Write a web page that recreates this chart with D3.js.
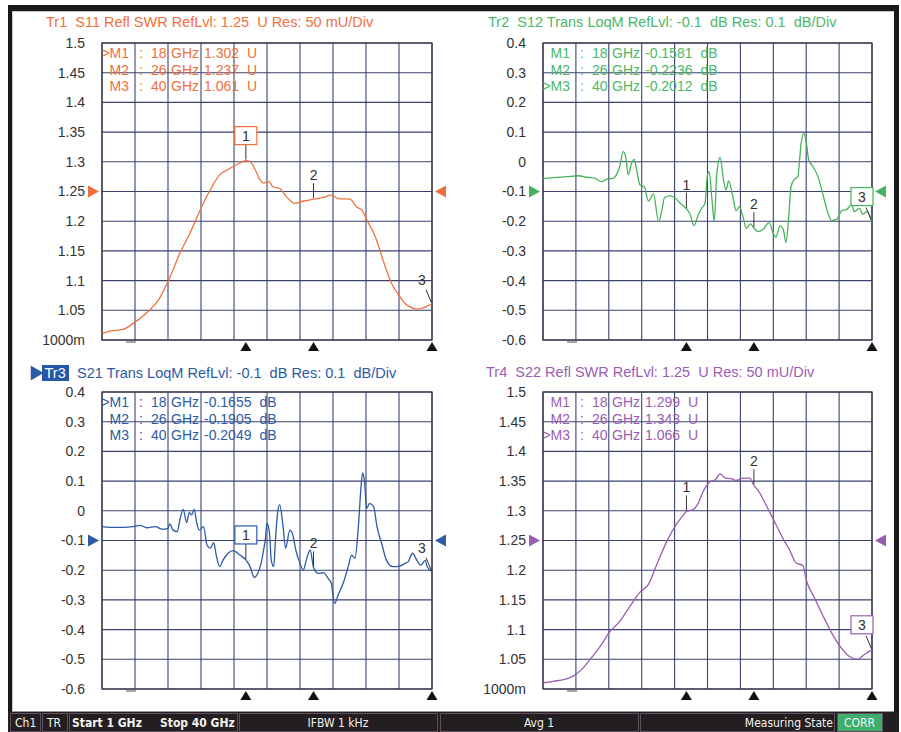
<!DOCTYPE html>
<html>
<head>
<meta charset="utf-8">
<script src="https://cdn.jsdelivr.net/npm/d3@7"></script>
<style>
  body { margin: 0; background: #ffffff; }
  svg { display: block; font-family: "Liberation Sans", Arial, sans-serif; }
  text { white-space: pre; }
</style>
</head>
<body>
<svg id="vna" width="901" height="732"></svg>
<script>
// ---- sweep & markers -------------------------------------------------------
const startGHz = 1, stopGHz = 40;
const markerGHz = [18, 26, 40];

// ---- axis tick labels ------------------------------------------------------
const swrTickValues = [1.5, 1.45, 1.4, 1.35, 1.3, 1.25, 1.2, 1.15, 1.1, 1.05, 1.0];
const swrTickLabels = ["1.5", "1.45", "1.4", "1.35", "1.3", "1.25", "1.2", "1.15", "1.1", "1.05", "1000m"];
const dbTickValues = [0.4, 0.3, 0.2, 0.1, 0, -0.1, -0.2, -0.3, -0.4, -0.5, -0.6];
const dbTickLabels = ["0.4", "0.3", "0.2", "0.1", "0", "-0.1", "-0.2", "-0.3", "-0.4", "-0.5", "-0.6"];

// ---- Tr1: S11 reflection, SWR ---------------------------------------------
const s11Freq = [1, 1.95, 3.52, 4.7, 6.28, 7.66, 9.04, 10.2, 11.4, 12.6, 13.8, 14.9, 15.9, 16.9, 18, 18.5, 19.1, 19.7, 20.1, 20.7,
  21.2, 22.0, 22.8, 23.8, 24.8, 26, 27.2, 28.1, 28.9, 30.3, 31.1, 31.7, 32.3, 33.3, 34.2, 35.2, 36.2, 37.2, 38.4, 39.4, 40];
const s11Swr = [1.011, 1.015, 1.018, 1.028, 1.046, 1.067, 1.106, 1.146, 1.18, 1.219, 1.253, 1.278, 1.287, 1.295, 1.302, 1.30, 1.287, 1.269, 1.264, 1.267,
  1.258, 1.255, 1.241, 1.23, 1.234, 1.237, 1.24, 1.244, 1.238, 1.237, 1.224, 1.219, 1.202, 1.174, 1.135, 1.096, 1.073, 1.057, 1.052, 1.057, 1.061];
const s11Markers = [1.302, 1.237, 1.061];

// ---- Tr2: S12 transmission, log magnitude ---------------------------------
const s12Freq = [1, 2.2, 3.8, 5.2, 6.2, 7.2, 7.9, 8.7, 9.3, 9.7, 10.1, 10.5, 10.8, 11.1, 11.5, 11.8, 12.1, 12.5, 13.0, 13.5,
  14.1, 14.7, 15.1, 15.4, 16.0, 16.6, 17.2, 18, 18.4, 18.9, 19.4, 19.8, 20.2, 20.5, 20.7, 21.0, 21.3, 21.6, 22.0, 22.4,
  22.7, 23.0, 23.5, 23.9, 24.3, 24.7, 25.1, 25.6, 26, 26.5, 27.1, 27.8, 28.3, 28.6, 29.1, 29.5, 29.8, 30.1, 30.4, 30.8,
  31.2, 31.6, 31.9, 32.2, 32.5, 33.0, 33.6, 34.2, 34.8, 35.2, 35.8, 36.4, 37.0, 37.6, 37.9, 38.5, 38.9, 39.4, 40];
const s12Db = [-0.056, -0.053, -0.05, -0.047, -0.052, -0.056, -0.067, -0.057, -0.056, -0.044, -0.016, 0.034, 0.017, -0.044, -0.005, 0.008, -0.028, -0.078, -0.084, -0.132,
  -0.108, -0.202, -0.162, -0.12, -0.115, -0.12, -0.138, -0.1581, -0.174, -0.215, -0.179, -0.157, -0.14, -0.044, -0.033, -0.117, -0.199, -0.039, 0.015, -0.061,
  -0.095, -0.064, -0.117, -0.165, -0.151, -0.185, -0.224, -0.209, -0.2236, -0.235, -0.227, -0.205, -0.241, -0.254, -0.216, -0.23, -0.272, -0.196, -0.084, -0.059,
  -0.05, 0.062, 0.096, 0.068, 0.006, -0.016, -0.05, -0.112, -0.174, -0.198, -0.194, -0.165, -0.16, -0.145, -0.168, -0.157, -0.176, -0.168, -0.2012];
const s12Markers = [-0.1581, -0.2236, -0.2012];

// ---- Tr3: S21 transmission, log magnitude ---------------------------------
const s21Freq = [1, 2.7, 4.7, 5.5, 6.3, 7.3, 8.1, 8.8, 9.0, 9.4, 9.9, 10.2, 10.6, 11.0, 11.3, 11.6, 11.9, 12.2, 12.5, 13.0,
  13.4, 13.8, 14.2, 14.5, 14.9, 15.3, 15.9, 16.5, 17.3, 18, 18.5, 19.0, 19.4, 19.8, 20.1, 20.3, 20.5, 20.8, 21.0, 21.3,
  21.5, 21.8, 22.0, 22.4, 22.7, 23.2, 23.5, 23.9, 24.4, 24.8, 25.2, 25.6, 26, 26.6, 27.2, 27.7, 28.1, 28.5, 28.9, 29.5,
  30.1, 30.5, 30.9, 31.3, 31.6, 31.8, 32.0, 32.3, 32.6, 33.1, 33.5, 34.1, 34.6, 35.4, 36.2, 36.8, 37.2, 37.7, 38.2, 38.7,
  39.2, 39.4, 40];
const s21Db = [-0.053, -0.056, -0.053, -0.049, -0.057, -0.053, -0.062, -0.059, -0.044, -0.065, -0.07, -0.031, 0.005, -0.04, -0.006, -0.014, 0.005, -0.042, -0.065, -0.053,
  -0.115, -0.126, -0.107, -0.149, -0.188, -0.166, -0.143, -0.134, -0.149, -0.1655, -0.188, -0.224, -0.211, -0.177, -0.132, -0.098, -0.042, -0.076, -0.166, -0.188,
  -0.098, 0.003, 0.020, -0.053, -0.126, -0.065, -0.076, -0.132, -0.177, -0.199, -0.16, -0.132, -0.1905, -0.211, -0.208, -0.227, -0.244, -0.312, -0.284, -0.244,
  -0.188, -0.149, -0.16, -0.053, 0.076, 0.128, 0.104, 0.008, 0.025, 0.014, -0.053, -0.115, -0.166, -0.188, -0.186, -0.177, -0.171, -0.143, -0.166, -0.183,
  -0.166, -0.186, -0.2049];
const s21Markers = [-0.1655, -0.1905, -0.2049];

// ---- Tr4: S22 reflection, SWR ---------------------------------------------
const s22Freq = [1, 2.2, 3.8, 4.6, 5.6, 6.6, 7.8, 8.9, 10.1, 11.3, 12.5, 13.5, 14.5, 15.6, 16.8, 17.6, 18, 18.8, 19.4, 20.0,
  20.8, 21.4, 22.0, 22.6, 23.3, 23.9, 24.7, 25.5, 26, 26.7, 27.5, 28.5, 29.5, 30.2, 31.0, 31.8, 32.2, 33.2, 34.2, 35.2,
  36.2, 37.2, 38.3, 39.1, 40];
const s22Swr = [1.0105, 1.013, 1.017, 1.022, 1.033, 1.05, 1.072, 1.096, 1.114, 1.139, 1.163, 1.176, 1.21, 1.246, 1.277, 1.292, 1.299, 1.302, 1.313, 1.333,
  1.349, 1.352, 1.362, 1.355, 1.354, 1.351, 1.355, 1.355, 1.343, 1.33, 1.308, 1.28, 1.252, 1.235, 1.212, 1.208, 1.184, 1.153, 1.123, 1.095,
  1.072, 1.056, 1.05, 1.058, 1.066];
const s22Markers = [1.299, 1.343, 1.066];

// ---- status bar ------------------------------------------------------------
const statusCells = ["Ch1", "TR", "Start 1 GHz   Stop 40 GHz", "IFBW 1 kHz", "Avg 1", "Measuring State", "CORR"];

// plain ASCII hyphen for negative readouts, as the instrument prints them
const asciiLocale = d3.formatLocale({ decimal: ".", thousands: ",", grouping: [3], currency: ["", ""], minus: "-" });

// ---- trace windows ---------------------------------------------------------
const swr = { ticks: swrTickValues, labels: swrTickLabels, domain: [1.0, 1.5], ref: 1.25, fmt: asciiLocale.format(".3f"), unit: "U" };
const db  = { ticks: dbTickValues,  labels: dbTickLabels,  domain: [-0.6, 0.4], ref: -0.1, fmt: asciiLocale.format(".4f"), unit: "dB" };

const traces = [
  { name: "Tr1", title: "S11 Refl SWR RefLvl: 1.25  U Res: 50 mU/Div", fmt: swr, color: "#f0703c", text: "#f0703c",
    freq: s11Freq, vals: s11Swr, markers: s11Markers, active: 0, box: { x: 102, y: 43, w: 330, h: 297 }, titleX: 46, titleY: 27 },
  { name: "Tr2", title: "S12 Trans LoqM RefLvl: -0.1  dB Res: 0.1  dB/Div", fmt: db, color: "#45b35c", text: "#4cb868",
    freq: s12Freq, vals: s12Db, markers: s12Markers, active: 2, box: { x: 543, y: 43, w: 329, h: 297 }, titleX: 488, titleY: 27 },
  { name: "Tr3", title: "S21 Trans LoqM RefLvl: -0.1  dB Res: 0.1  dB/Div", fmt: db, color: "#2c5aa6", text: "#2c5aa6",
    freq: s21Freq, vals: s21Db, markers: s21Markers, active: 0, box: { x: 102, y: 392, w: 330, h: 297 }, titleX: 77, titleY: 378, selected: true },
  { name: "Tr4", title: "S22 Refl SWR RefLvl: 1.25  U Res: 50 mU/Div", fmt: swr, color: "#9a5db3", text: "#9a5db3",
    freq: s22Freq, vals: s22Swr, markers: s22Markers, active: 2, box: { x: 543, y: 392, w: 329, h: 297 }, titleX: 486, titleY: 377 }
];

const svg = d3.select("#vna");
const gridColor = "#3b4270";

// ---- instrument frame ------------------------------------------------------
svg.append("rect").attr("x", 8).attr("y", 5).attr("width", 891).attr("height", 6).attr("fill", "#1b1819");
svg.append("rect").attr("x", 8).attr("y", 5).attr("width", 4).attr("height", 708).attr("fill", "#1b1819");
svg.append("rect").attr("x", 894).attr("y", 5).attr("width", 5).attr("height", 708).attr("fill", "#1b1819");
svg.append("line").attr("x1", 12.5).attr("x2", 12.5).attr("y1", 11).attr("y2", 711).attr("stroke", "#c8c8c8");
svg.append("line").attr("x1", 12).attr("x2", 894).attr("y1", 11.5).attr("y2", 11.5).attr("stroke", "#c8c8c8");
svg.append("line").attr("x1", 12).attr("x2", 894).attr("y1", 711.5).attr("y2", 711.5).attr("stroke", "#9a9a9a");

traces.forEach(tr => {
  const b = tr.box;
  const x = d3.scaleLinear().domain([startGHz, stopGHz]).range([b.x, b.x + b.w]);
  const y = d3.scaleLinear().domain(tr.fmt.domain).range([b.y + b.h, b.y]);
  const g = svg.append("g");

  // title line
  if (tr.selected) {
    g.append("path").attr("d", d3.symbol(d3.symbolTriangle, 95)()).attr("fill", tr.color)
      .attr("transform", `translate(35,${tr.titleY - 5}) rotate(90)`);
    g.append("rect").attr("x", 42).attr("y", tr.titleY - 13).attr("width", 27).attr("height", 16).attr("fill", "#2457a8");
    g.append("text").attr("x", 44.5).attr("y", tr.titleY).attr("fill", "#ffffff").attr("font-size", 14.5).text(tr.name);
    g.append("text").attr("x", tr.titleX).attr("y", tr.titleY).attr("fill", tr.text).attr("font-size", 14.5).text(tr.title);
  } else {
    g.append("text").attr("x", tr.titleX).attr("y", tr.titleY).attr("fill", tr.text).attr("font-size", 14.5)
      .text(tr.name + "  " + tr.title);
  }

  // graticule
  const xGrid = d3.range(11).map(i => startGHz + i * (stopGHz - startGHz) / 10);
  g.selectAll(".vg").data(xGrid).join("line")
    .attr("x1", d => x(d)).attr("x2", d => x(d)).attr("y1", b.y).attr("y2", b.y + b.h)
    .attr("stroke", gridColor).attr("stroke-width", 1.1);
  g.selectAll(".hg").data(tr.fmt.ticks).join("line")
    .attr("x1", b.x).attr("x2", b.x + b.w).attr("y1", d => y(d)).attr("y2", d => y(d))
    .attr("stroke", gridColor).attr("stroke-width", 1.1);
  g.append("rect").attr("x", b.x).attr("y", b.y).attr("width", b.w).attr("height", b.h)
    .attr("fill", "none").attr("stroke", "#3a3a4a").attr("stroke-width", 1.3);

  // y scale labels
  const yAxis = d3.axisLeft(y).tickValues(tr.fmt.ticks)
    .tickFormat((d, i) => tr.fmt.labels[i]).tickSize(0).tickPadding(17);
  const ax = g.append("g").attr("transform", `translate(${b.x},0)`).call(yAxis);
  ax.select(".domain").remove();
  ax.selectAll("text").attr("font-size", 14).attr("fill", "#333333")
    .attr("font-family", "'Liberation Sans', Arial, sans-serif");

  // reference level arrows
  const ry = y(tr.fmt.ref);
  g.append("path").attr("d", `M${b.x - 14},${ry - 6}L${b.x - 3},${ry}L${b.x - 14},${ry + 6}Z`).attr("fill", tr.color);
  g.append("path").attr("d", `M${b.x + b.w + 14},${ry - 6}L${b.x + b.w + 3},${ry}L${b.x + b.w + 14},${ry + 6}Z`).attr("fill", tr.color);

  // stimulus marks under the frequency axis
  const by = b.y + b.h;
  g.append("line").attr("x1", b.x + 24).attr("x2", b.x + 34).attr("y1", by + 2).attr("y2", by + 2)
    .attr("stroke", "#8a8a8a").attr("stroke-width", 1.5);
  g.selectAll(".mt").data(markerGHz).join("path")
    .attr("d", d => `M${x(d)},${by + 2}L${x(d) + 5.5},${by + 11}L${x(d) - 5.5},${by + 11}Z`)
    .attr("fill", "#111111");

  // marker readout table
  tr.markers.forEach((v, i) => {
    const ly = b.y + 15 + i * 16.5;
    const t = g.append("g").attr("fill", tr.text).attr("font-size", 14);
    t.append("text").attr("x", b.x + 27).attr("y", ly).attr("text-anchor", "end")
      .text((i === tr.active ? ">" : "") + "M" + (i + 1));
    t.append("text").attr("x", b.x + 37).attr("y", ly).text(":");
    t.append("text").attr("x", b.x + 64.5).attr("y", ly).attr("text-anchor", "end").text(markerGHz[i]);
    t.append("text").attr("x", b.x + 69).attr("y", ly).text("GHz");
    const vt = t.append("text").attr("x", b.x + 102).attr("y", ly).text(tr.fmt.fmt(v));
    const vw = vt.node().getComputedTextLength();
    t.append("text").attr("x", b.x + 102 + vw + 8).attr("y", ly).text(tr.fmt.unit);
  });

  // measured trace
  const pts = tr.freq.map((f, i) => [f, tr.vals[i]]);
  g.append("path").datum(pts)
    .attr("d", d3.line().x(d => x(d[0])).y(d => y(d[1])).curve(d3.curveMonotoneX))
    .attr("fill", "none").attr("stroke", tr.color).attr("stroke-width", 1.3);

  // marker flags
  tr.markers.forEach((v, i) => {
    const mx = x(markerGHz[i]), my = y(v);
    const atEdge = markerGHz[i] === stopGHz;
    const lx = atEdge ? mx - 10 : mx;
    const fl = g.append("g");
    if (atEdge) {
      fl.append("line").attr("x1", mx - 6).attr("y1", my - 14).attr("x2", mx - 0.5).attr("y2", my - 1)
        .attr("stroke", "#333333").attr("stroke-width", 1);
    } else {
      fl.append("line").attr("x1", mx).attr("y1", my - 16).attr("x2", mx).attr("y2", my - 1)
        .attr("stroke", "#333333").attr("stroke-width", 1);
    }
    if (i === tr.active) {
      fl.append("rect").attr("x", lx - 11).attr("y", my - 34).attr("width", 22).attr("height", 18)
        .attr("fill", "#ffffff").attr("stroke", tr.color).attr("stroke-width", 1.2);
      fl.append("text").attr("x", lx).attr("y", my - 20).attr("text-anchor", "middle")
        .attr("font-size", 14).attr("fill", "#333333").text(i + 1);
    } else {
      fl.append("text").attr("x", lx).attr("y", my - 19).attr("text-anchor", "middle")
        .attr("font-size", 14).attr("fill", "#333333").text(i + 1);
    }
  });
});

// ---- status bar ------------------------------------------------------------
svg.append("rect").attr("x", 8).attr("y", 712).attr("width", 891).attr("height", 20).attr("fill", "#231f20");
const cellX = [10, 42, 69, 239, 440, 640, 837];
const cellW = [30, 25, 168, 198, 198, 194, 45];
const sb = svg.append("g").attr("font-family", "'DejaVu Sans Condensed', 'DejaVu Sans', sans-serif").attr("font-size", 12);
statusCells.forEach((s, i) => {
  sb.append("rect").attr("x", cellX[i] + 0.5).attr("y", 713.5).attr("width", cellW[i]).attr("height", 18)
    .attr("fill", i === 6 ? "#3dae6c" : "none").attr("stroke", "#5e5060").attr("stroke-width", 1);
});
const st = (x, txt, opts = {}) => sb.append("text").attr("x", x).attr("y", 727)
  .attr("fill", "#f2f2f2").attr("text-anchor", opts.anchor || "start")
  .attr("font-weight", opts.bold ? "bold" : "normal").text(txt);
st(15, statusCells[0]);
st(47, statusCells[1]);
st(72, "Start 1 GHz", { bold: true });
st(160, "Stop 40 GHz", { bold: true });
st(338, statusCells[3], { anchor: "middle" });
st(539, statusCells[4], { anchor: "middle" });
st(833, statusCells[5], { anchor: "end" });
st(859.5, statusCells[6], { anchor: "middle" });
</script>
</body>
</html>
